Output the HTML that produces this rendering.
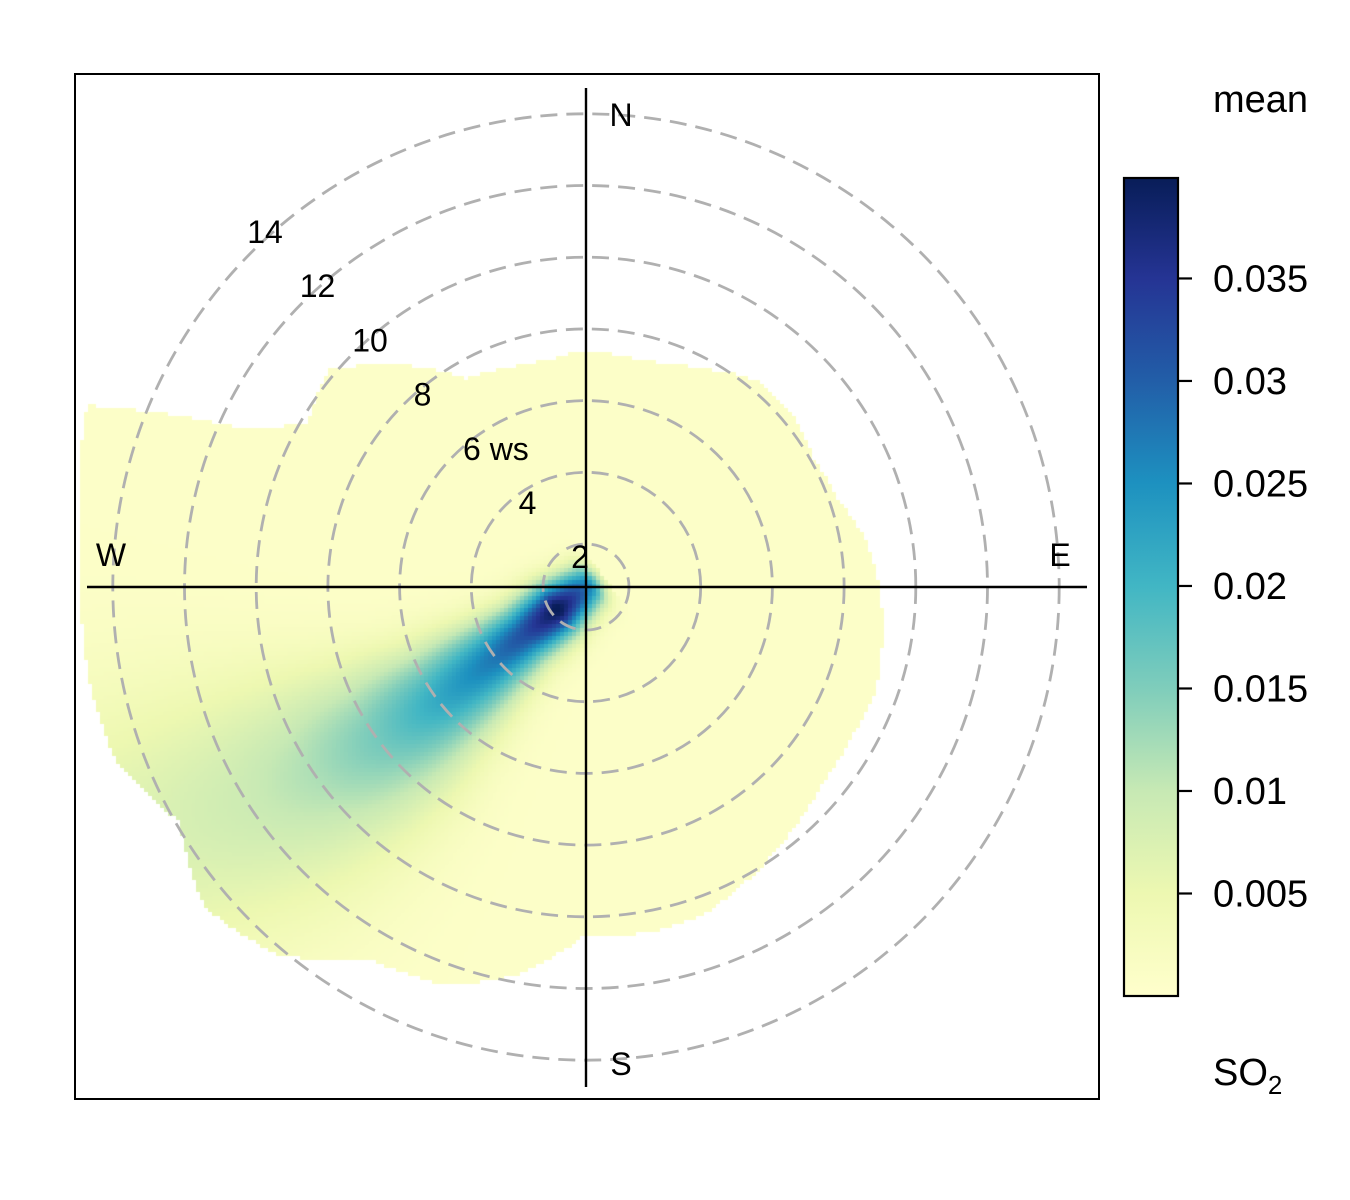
<!DOCTYPE html>
<html><head><meta charset="utf-8"><style>
html,body{margin:0;padding:0;background:#fff;width:1350px;height:1200px;overflow:hidden}
#wrap{position:relative;width:1350px;height:1200px}
canvas,svg{position:absolute;left:0;top:0}
text{font-family:"Liberation Sans",Arial,sans-serif;fill:#000}
</style></head><body>
<div id="wrap">
<canvas id="heat" width="1350" height="1200"></canvas>
<svg id="ov" width="1350" height="1200"></svg>
</div>
<script>
// ---- data ----
const boundaryDir = [0,10,20,30,40,50,60,70,80,90,100,110,120,130,140,150,160,170,180,190,200,210,220,230,240,250,260,270,280,290,295,300,310,320,330,340,350,360];
const boundaryWs  = [7.4,7.3,7.4,7.8,8.3,8.3,8.1,8.2,8.7,9.0,9.2,9.4,9.3,9.4,9.7,10.1,10.5,10.6,10.5,11.8,12.6,12.8,14.2,14.7,13.9,14.8,14.9,14.9,15.2,15.6,11.2,9.8,10.2,8.9,7.5,7.3,7.2,7.4];
const plumeWs    = [0,1,1.8,3,4,6,8,10,12,14,16];
const plumePeak  = [0.012,0.03,0.04,0.031,0.027,0.021,0.015,0.011,0.0085,0.007,0.006];
const plumeDir   = [230,231,232,232,232,232,233,235,237,239,241];
const plumeWidth = [0.6,0.7,0.8,0.9,1.1,1.6,2.3,3.0,3.6,4.0,4.3];
const background = 0.0008;
const wsRings = [2,4,6,8,10,12,14];
const cbTicks = [0.005,0.01,0.015,0.02,0.025,0.03,0.035];
const cbMax = 0.0399;
const palStops = [0,0.005,0.01,0.015,0.02,0.025,0.03,0.035,0.04];
const palCols = ["#ffffcc","#edf8b1","#c7e9b4","#7fcdbb","#41b6c4","#1d91c0","#225ea8","#253494","#081d58"];

// ---- scales ----
const cx=586, cy=587;
const rOf = ws => 35.85*ws - 28.7;
const wsOf = r => (r+28.7)/35.85;
function interp(xs,ys,x){ if(x<=xs[0])return ys[0]; for(let i=1;i<xs.length;i++){ if(x<=xs[i]){const t=(x-xs[i-1])/(xs[i]-xs[i-1]);return ys[i-1]+t*(ys[i]-ys[i-1]);}} return ys[ys.length-1]; }
function hex(h){return [parseInt(h.substr(1,2),16),parseInt(h.substr(3,2),16),parseInt(h.substr(5,2),16)];}
const palRGB = palCols.map(hex);
function color(v){ v=Math.max(0,Math.min(0.04,v)); for(let i=1;i<palStops.length;i++){ if(v<=palStops[i]){const t=(v-palStops[i-1])/(palStops[i]-palStops[i-1]); const a=palRGB[i-1],b=palRGB[i]; return `rgb(${Math.round(a[0]+t*(b[0]-a[0]))},${Math.round(a[1]+t*(b[1]-a[1]))},${Math.round(a[2]+t*(b[2]-a[2]))})`;}} return palCols[palCols.length-1]; }

// ---- heatmap ----
const ctx=document.getElementById('heat').getContext('2d');
const cell=4;
for(let y=80;y<1095;y+=cell){ for(let x=80;x<1095;x+=cell){
  const dx=x+cell/2-cx, dy=y+cell/2-cy; const r=Math.hypot(dx,dy);
  let th=Math.atan2(dx,-dy)*180/Math.PI; if(th<0)th+=360;
  const ws=Math.max(0,wsOf(r));
  if(ws>interp(boundaryDir,boundaryWs,th)) continue;
  const pd=interp(plumeWs,plumeDir,ws)*Math.PI/180;
  const ux=Math.sin(pd), uy=-Math.cos(pd);
  const along=dx*ux+dy*uy, perp=Math.abs(dx*uy-dy*ux);
  const aws=Math.max(0,wsOf(Math.max(0,along)));
  const pk=interp(plumeWs,plumePeak,aws), pw=interp(plumeWs,plumeWidth,aws)*35.85;
  let v=background;
  if(along>-20) v+=pk*Math.exp(-(perp/pw)*(perp/pw))*(along<0?Math.exp(-(along/15)*(along/15)):1);
  ctx.fillStyle=color(v); ctx.fillRect(x,y,cell,cell);
}}

// ---- overlay ----
const svg=document.getElementById('ov'), NS="http://www.w3.org/2000/svg";
function el(tag,attrs,txt){const e=document.createElementNS(NS,tag);for(const k in attrs)e.setAttribute(k,attrs[k]);if(txt!==undefined)e.textContent=txt;svg.appendChild(e);return e;}
wsRings.forEach(w=>{
  const c=el('circle',{cx:cx,cy:cy,r:rOf(w),fill:'none',stroke:'#b0b0b0','stroke-width':2.8,'stroke-dasharray':'17 9'});
  
  
  const k=(14-w)/2;
  const lx=265+k*52.5, ly=231+k*54.2+12;
  const t=el('text',{x:w===6?463:lx,y:ly,'font-size':32,'text-anchor':w===6?'start':'middle'},w===6?'6 ws':String(w));
  
  
});
let l=el('line',{x1:87,y1:cy,x2:1087,y2:cy,stroke:'#000','stroke-width':2.4});


l=el('line',{x1:cx,y1:88,x2:cx,y2:1087,stroke:'#000','stroke-width':2.4});


[['N',621,126],['S',621,1075],['W',111,566],['E',1060,566]].forEach(d=>{
  const t=el('text',{x:d[1],y:d[2],'font-size':32,'text-anchor':'middle'},d[0]);
  
  
});
let b=el('rect',{x:75,y:74,width:1024,height:1025,fill:'none',stroke:'#000','stroke-width':2});



// colorbar
const cbTop=178, cbBot=996, cbX=1124, cbW=54;
const yOfV = v => cbBot - v/cbMax*(cbBot-cbTop);
const defs=el('defs',{});
const grad=document.createElementNS(NS,'linearGradient');
grad.setAttribute('id','cbg');grad.setAttribute('x1','0');grad.setAttribute('y1','1');grad.setAttribute('x2','0');grad.setAttribute('y2','0');
palStops.forEach((s,i)=>{const st=document.createElementNS(NS,'stop');st.setAttribute('offset',Math.min(1,s/cbMax));st.setAttribute('stop-color',palCols[i]);grad.appendChild(st);});
defs.appendChild(grad);
let cb=el('rect',{x:cbX,y:cbTop,width:cbW,height:cbBot-cbTop,fill:'url(#cbg)',stroke:'#000','stroke-width':2.2});


cbTicks.forEach(v=>{
  const y=yOfV(v);
  const tk=el('line',{x1:cbX+cbW,y1:y,x2:cbX+cbW+14,y2:y,stroke:'#000','stroke-width':2.2});
  
  
  const t=el('text',{x:1213,y:y+13,'font-size':38},String(v));
  
  
});
let m=el('text',{x:1213,y:112,'font-size':38},'mean');


let so=el('text',{x:1213,y:1085,'font-size':38},'SO');


const sub=document.createElementNS(NS,'tspan');sub.setAttribute('font-size','26');sub.setAttribute('dy','9');sub.textContent='2';so.appendChild(sub);
</script>
</body></html>
